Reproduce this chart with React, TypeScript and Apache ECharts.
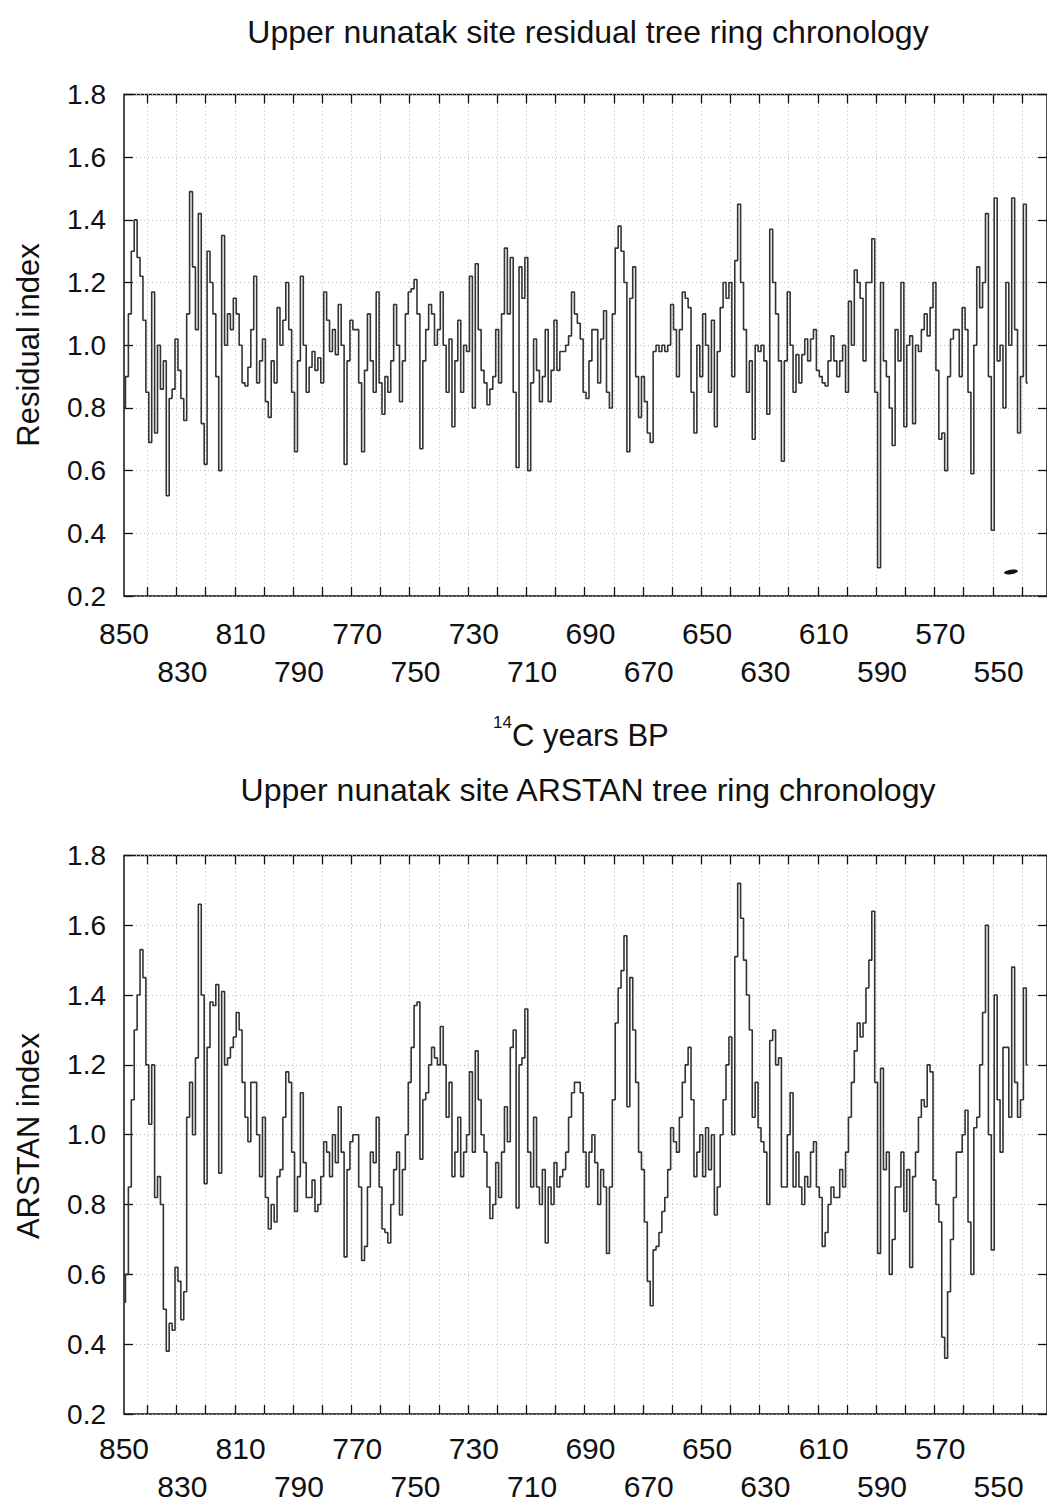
import React, { useEffect, useRef } from "react";
import * as echarts from "echarts";

// Years BP, one value per year, 850 -> 540
const firstYear = 850;
const lastYear = 540;
const years: number[] = [];
for (let y = firstYear; y >= lastYear; y--) years.push(y);

// Residual index (top panel)
const residual: number[] = [
  0.80, 0.90, 1.10, 1.30, 1.40, 1.28, 1.22, 1.08, 0.85, 0.69, // 850
  1.17, 0.72, 1.00, 0.86, 0.95, 0.52, 0.83, 0.86, 1.02, 0.92, // 840
  0.83, 0.76, 1.10, 1.49, 1.25, 1.05, 1.42, 0.75, 0.62, 1.30, // 830
  1.20, 1.10, 0.90, 0.60, 1.35, 1.00, 1.10, 1.05, 1.15, 1.10, // 820
  1.00, 0.88, 0.87, 0.93, 1.05, 1.22, 0.88, 0.95, 1.02, 0.82, // 810
  0.77, 0.95, 0.88, 1.12, 1.00, 1.08, 1.20, 1.05, 0.85, 0.66, // 800
  0.95, 1.22, 1.00, 0.85, 0.93, 0.98, 0.92, 0.96, 0.88, 1.17, // 790
  1.08, 0.98, 1.05, 0.97, 1.13, 1.00, 0.62, 0.95, 1.08, 1.05, // 780
  1.05, 0.88, 0.66, 0.92, 1.10, 0.95, 0.85, 1.17, 0.88, 0.78, // 770
  0.90, 0.85, 0.95, 1.13, 1.00, 0.82, 0.95, 1.10, 1.17, 1.18, // 760
  1.21, 1.10, 0.67, 0.95, 1.05, 1.13, 1.10, 1.00, 1.05, 1.17, // 750
  1.00, 0.85, 1.02, 0.74, 0.95, 1.08, 0.85, 1.00, 0.98, 1.22, // 740
  0.80, 1.26, 1.05, 0.92, 0.88, 0.81, 0.86, 0.90, 1.05, 0.88, // 730
  1.10, 1.31, 1.10, 1.28, 0.85, 0.61, 1.25, 1.15, 1.28, 0.60, // 720
  0.88, 1.02, 0.92, 0.82, 0.90, 1.05, 0.82, 0.92, 1.08, 0.92, // 710
  0.98, 0.98, 1.00, 1.03, 1.17, 1.10, 1.07, 1.02, 0.85, 0.83, // 700
  0.95, 1.05, 1.05, 0.88, 1.02, 1.11, 0.85, 0.80, 1.10, 1.31, // 690
  1.38, 1.30, 1.20, 0.66, 1.15, 1.25, 0.90, 0.77, 0.90, 0.82, // 680
  0.72, 0.69, 0.98, 1.00, 0.98, 1.00, 0.98, 1.00, 1.13, 1.05, // 670
  0.90, 1.05, 1.17, 1.15, 1.12, 0.85, 0.72, 1.00, 0.90, 1.10, // 660
  1.00, 0.85, 1.08, 0.74, 0.98, 1.12, 1.20, 1.15, 1.20, 0.90, // 650
  1.27, 1.45, 1.20, 1.05, 0.85, 0.95, 0.70, 1.00, 0.98, 1.00, // 640
  0.95, 0.78, 1.37, 1.20, 1.10, 0.95, 0.63, 0.95, 1.17, 1.00, // 630
  0.85, 0.97, 0.88, 0.97, 1.02, 0.95, 1.02, 1.05, 0.92, 0.90, // 620
  0.88, 0.87, 0.95, 1.03, 0.95, 0.90, 0.95, 1.00, 0.85, 1.14, // 610
  1.00, 1.24, 1.20, 1.15, 0.95, 1.20, 1.20, 1.34, 0.85, 0.29, // 600
  1.20, 0.95, 0.90, 0.80, 0.68, 1.05, 0.95, 1.20, 0.74, 1.00, // 590
  1.03, 0.75, 1.00, 0.98, 1.05, 1.10, 1.03, 1.12, 1.20, 0.92, // 580
  0.70, 0.72, 0.60, 0.90, 1.02, 1.05, 1.05, 0.90, 1.12, 1.05, // 570
  0.85, 0.59, 1.00, 1.25, 1.12, 1.20, 1.42, 0.90, 0.41, 1.47, // 560
  0.95, 1.00, 0.80, 1.20, 1.00, 1.47, 1.05, 0.72, 0.90, 1.45, // 550
  0.88, // 540
];

// ARSTAN index (bottom panel)
const arstan: number[] = [
  0.52, 0.60, 0.85, 1.10, 1.30, 1.40, 1.53, 1.45, 1.20, 1.03, // 850
  1.20, 0.82, 0.88, 0.80, 0.50, 0.38, 0.46, 0.44, 0.62, 0.58, // 840
  0.47, 0.55, 1.05, 1.15, 1.00, 1.22, 1.66, 1.40, 0.86, 1.25, // 830
  1.38, 1.37, 1.43, 0.89, 1.41, 1.20, 1.22, 1.25, 1.28, 1.35, // 820
  1.30, 1.15, 1.05, 0.98, 1.15, 1.15, 1.00, 0.88, 1.05, 0.82, // 810
  0.73, 0.80, 0.75, 0.88, 0.90, 1.05, 1.18, 1.15, 0.95, 0.78, // 800
  0.88, 1.12, 0.92, 0.82, 0.82, 0.87, 0.78, 0.80, 0.88, 0.98, // 790
  0.95, 0.88, 1.00, 0.92, 1.08, 0.95, 0.65, 0.90, 0.98, 1.00, // 780
  1.00, 0.85, 0.64, 0.68, 0.85, 0.95, 0.92, 1.05, 0.85, 0.73, // 770
  0.72, 0.69, 0.80, 0.90, 0.95, 0.77, 0.90, 1.00, 1.15, 1.25, // 760
  1.37, 1.38, 0.93, 1.10, 1.12, 1.20, 1.25, 1.22, 1.20, 1.31, // 750
  1.20, 1.05, 1.15, 0.88, 0.95, 1.05, 0.88, 0.95, 1.00, 1.18, // 740
  0.95, 1.24, 1.10, 1.00, 0.95, 0.85, 0.76, 0.80, 0.92, 0.82, // 730
  0.95, 1.08, 0.98, 1.25, 1.30, 0.79, 1.20, 1.22, 1.36, 0.95, // 720
  0.85, 1.05, 0.85, 0.80, 0.90, 0.69, 0.85, 0.80, 0.92, 0.85, // 710
  0.88, 0.90, 0.95, 1.05, 1.12, 1.15, 1.15, 1.12, 0.95, 0.85, // 700
  0.95, 1.00, 0.92, 0.80, 0.90, 0.85, 0.66, 0.85, 1.10, 1.32, // 690
  1.42, 1.47, 1.57, 1.08, 1.45, 1.30, 1.15, 0.95, 0.90, 0.75, // 680
  0.58, 0.51, 0.67, 0.68, 0.72, 0.78, 0.82, 0.90, 1.02, 0.98, // 670
  0.95, 1.05, 1.15, 1.20, 1.25, 1.10, 0.88, 0.95, 1.00, 0.88, // 660
  1.02, 0.90, 1.00, 0.77, 0.85, 1.00, 1.10, 1.20, 1.28, 1.00, // 650
  1.51, 1.72, 1.62, 1.50, 1.40, 1.30, 1.05, 1.15, 1.02, 0.98, // 640
  0.95, 0.80, 1.27, 1.30, 1.20, 1.22, 0.85, 0.85, 1.00, 1.12, // 630
  0.85, 0.95, 0.85, 0.80, 0.88, 0.85, 0.95, 0.98, 0.85, 0.82, // 620
  0.68, 0.72, 0.80, 0.85, 0.82, 0.82, 0.90, 0.85, 0.95, 1.05, // 610
  1.15, 1.24, 1.32, 1.28, 1.32, 1.42, 1.50, 1.64, 1.15, 0.66, // 600
  1.19, 0.90, 0.95, 0.60, 0.70, 0.85, 0.85, 0.95, 0.78, 0.90, // 590
  0.62, 0.88, 0.95, 1.05, 1.10, 1.08, 1.20, 1.18, 0.87, 0.80, // 580
  0.75, 0.42, 0.36, 0.55, 0.70, 0.82, 0.95, 0.95, 1.00, 1.07, // 570
  0.75, 0.60, 1.02, 1.05, 1.20, 1.35, 1.60, 1.00, 0.67, 1.40, // 560
  1.10, 0.95, 1.25, 1.25, 1.05, 1.48, 1.15, 1.05, 1.10, 1.42, // 550
  1.20, // 540
];

// Axis labels / ticks
const xLabelYears = [850, 830, 810, 790, 770, 750, 730, 710, 690, 670, 650, 630, 610, 590, 570, 550];
const xTickYears = [842, 832, 822, 812, 802, 792, 782, 772, 762, 752, 742, 732, 722, 712, 702, 692, 682, 672, 662, 652, 642, 632, 622, 612, 602, 592, 582, 572, 562, 552, 542];
const yMin = 0.2;
const yMax = 1.8;
const yStep = 0.2;

const topTitle = "Upper nunatak site residual tree ring chronology";
const bottomTitle = "Upper nunatak site ARSTAN tree ring chronology";
const topYName = "Residual index";
const bottomYName = "ARSTAN index";
const xNameSup = "14";
const xNameMain = "C years BP";

const FONT = '"Liberation Sans", Arial, sans-serif';
const X_MIN = 533.4;
const X_MAX = 850;

const panels = [
  { top: 94.5, height: 501.5, labelMargin: 18, values: residual },
  { top: 855.4, height: 561.6, labelMargin: 15, values: arstan },
];

function buildOption() {
  const grid: any[] = [];
  const xAxis: any[] = [];
  const yAxis: any[] = [];
  const series: any[] = [];
  panels.forEach((p, i) => {
    grid.push({
      left: 124,
      top: p.top,
      width: 926,
      height: p.height,
      show: true,
      borderColor: "#111",
      borderWidth: 1.5,
      backgroundColor: "transparent",
    });
    const tickCommon = {
      show: true,
      inside: true,
      length: 9,
      lineStyle: { color: "#111", width: 1.3 },
      customValues: xTickYears,
    };
    xAxis.push({
      type: "value",
      gridIndex: i,
      position: "bottom",
      min: X_MIN,
      max: X_MAX,
      inverse: true,
      axisLine: { show: false },
      axisTick: tickCommon,
      splitLine: { show: true, lineStyle: { color: "#b8b8b8", type: [1, 3], width: 1 } },
      axisLabel: {
        show: true,
        customValues: xLabelYears,
        margin: p.labelMargin,
        fontFamily: FONT,
        fontSize: 30,
        color: "#111",
        lineHeight: 38,
        formatter: (v: number) => ((X_MAX - v) % 40 === 0 ? String(v) : "\n" + String(v)),
      },
    });
    xAxis.push({
      type: "value",
      gridIndex: i,
      position: "top",
      min: X_MIN,
      max: X_MAX,
      inverse: true,
      axisLine: { show: false },
      axisTick: tickCommon,
      splitLine: { show: false },
      axisLabel: { show: false },
    });
    const yTick = { show: true, inside: true, length: 9, lineStyle: { color: "#111", width: 1.3 } };
    yAxis.push({
      type: "value",
      gridIndex: i,
      position: "left",
      min: yMin,
      max: yMax,
      interval: yStep,
      axisLine: { show: false },
      axisTick: yTick,
      splitLine: { show: true, lineStyle: { color: "#b8b8b8", type: [1, 3], width: 1 } },
      axisLabel: {
        margin: 18,
        fontFamily: FONT,
        fontSize: 28,
        color: "#111",
        formatter: (v: number) => v.toFixed(1),
      },
    });
    yAxis.push({
      type: "value",
      gridIndex: i,
      position: "right",
      min: yMin,
      max: yMax,
      interval: yStep,
      axisLine: { show: false },
      axisTick: yTick,
      splitLine: { show: false },
      axisLabel: { show: false },
    });
    series.push({
      type: "line",
      xAxisIndex: i * 2,
      yAxisIndex: i * 2,
      data: years.map((yr, k) => [yr, p.values[k]]),
      step: "middle",
      showSymbol: false,
      lineStyle: { color: "#333", width: 1.6 },
    });
  });

  const textStyle = (size: number) => ({
    fontFamily: FONT,
    fontSize: size,
    fill: "#111",
    textAlign: "center",
    textVerticalAlign: "middle",
  });

  const graphic: any[] = [
    { type: "text", x: 588, y: 32, style: { ...textStyle(32), text: topTitle } },
    { type: "text", x: 588, y: 790, style: { ...textStyle(32), text: bottomTitle } },
    { type: "text", x: 28, y: 345, rotation: Math.PI / 2, style: { ...textStyle(31), text: topYName } },
    { type: "text", x: 28, y: 1136, rotation: Math.PI / 2, style: { ...textStyle(31), text: bottomYName } },
    {
      type: "text",
      x: 512,
      y: 735,
      style: { fontFamily: FONT, fontSize: 31, fill: "#111", textAlign: "left", textVerticalAlign: "middle", text: xNameMain },
    },
    {
      type: "text",
      x: 512,
      y: 722,
      style: { fontFamily: FONT, fontSize: 17, fill: "#111", textAlign: "right", textVerticalAlign: "middle", text: xNameSup },
    },
    {
      type: "ellipse",
      x: 1011,
      y: 572,
      rotation: 0.15,
      shape: { cx: 0, cy: 0, rx: 7, ry: 2.3 },
      style: { fill: "#111" },
    },
  ];

  return {
    animation: false,
    backgroundColor: "#fff",
    grid,
    xAxis,
    yAxis,
    series,
    graphic,
  };
}

export default function App() {
  const ref = useRef<HTMLDivElement>(null);
  useEffect(() => {
    if (!ref.current) return;
    const chart = echarts.init(ref.current, undefined, { renderer: "svg" });
    chart.setOption(buildOption() as any);
    return () => chart.dispose();
  }, []);
  return (
    <div
      ref={ref}
      style={{ position: "absolute", left: 0, top: 0, width: 1047, height: 1505, background: "#fff" }}
    />
  );
}
